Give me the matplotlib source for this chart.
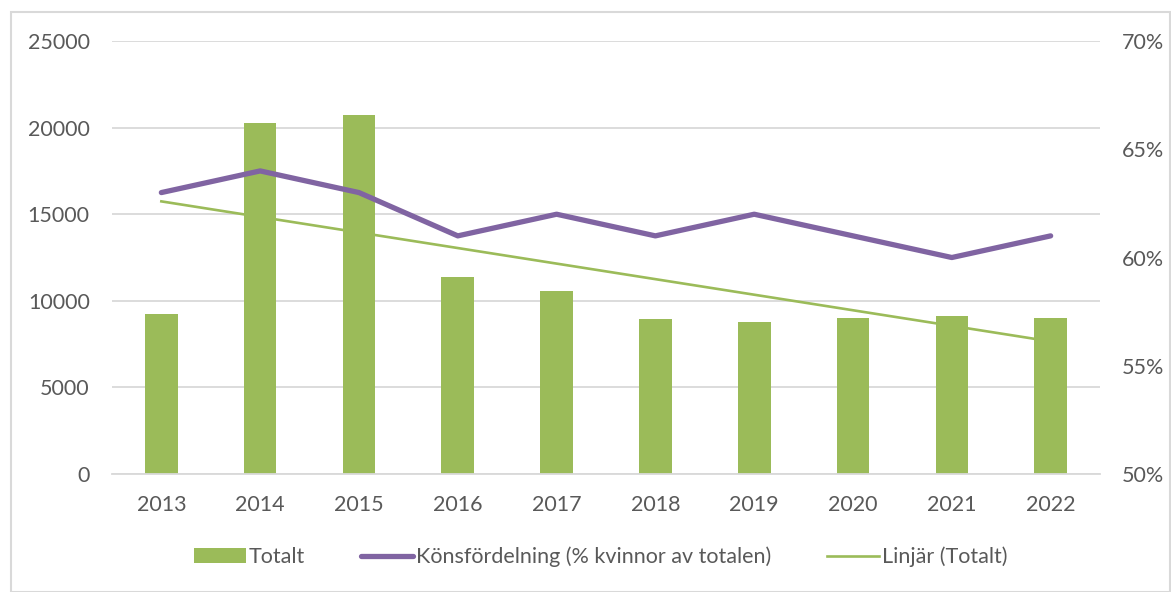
import numpy as np
import matplotlib.pyplot as plt
from matplotlib.patches import Rectangle
from matplotlib.ticker import FuncFormatter

# -----------------------------
# Data
# -----------------------------
years = ["2013", "2014", "2015", "2016", "2017", "2018", "2019", "2020", "2021", "2022"]
totalt = [9250, 20250, 20700, 11400, 10550, 8950, 8800, 9000, 9100, 9000]
andel_kvinnor = [0.63, 0.64, 0.63, 0.61, 0.62, 0.61, 0.62, 0.61, 0.60, 0.61]

GREEN = "#9BBB59"
PURPLE = "#8064A2"
GRID = "#D9D9D9"
TXT = "#595959"
FS = 15.5

plt.rcParams["font.family"] = ["Lato", "DejaVu Sans"]

fig = plt.figure(figsize=(11.71, 5.92), dpi=100)
fig.subplots_adjust(left=0.0956, right=0.9394, top=0.9307, bottom=0.1993)
ax = fig.add_subplot(111)

x = np.arange(len(years))
ax.bar(x, totalt, width=0.33, color=GREEN, label="Totalt", zorder=2)

# linjär trendlinje (minsta kvadrat) på Totalt
k, m = np.polyfit(x, totalt, 1)
ax.plot(x, k * x + m, color=GREEN, lw=1.9, label="Linjär (Totalt)", zorder=3)

ax.set_xlim(-0.5, len(years) - 0.5)
ax.set_ylim(0, 25000)
ax.set_yticks(range(0, 25001, 5000))
ax.set_xticks(x)
ax.set_xticklabels(years)
ax.grid(axis="y", color=GRID, lw=1.3, zorder=0)
ax.set_axisbelow(True)

ax2 = ax.twinx()
ax2.plot(x, andel_kvinnor, color=PURPLE, lw=3.8, solid_capstyle="round",
         label="Könsfördelning (% kvinnor av totalen)", zorder=4)
ax2.set_ylim(0.5, 0.7)
ax2.set_yticks([0.5, 0.55, 0.6, 0.65, 0.7])
ax2.yaxis.set_major_formatter(FuncFormatter(lambda v, p: f"{v * 100:.0f}%"))

for a in (ax, ax2):
    for s in a.spines.values():
        s.set_visible(False)
    a.tick_params(length=0, labelsize=FS, colors=TXT)
ax.spines["bottom"].set_visible(True)
ax.spines["bottom"].set_color(GRID)
ax.spines["bottom"].set_linewidth(1.3)
ax.tick_params(axis="y", pad=16)
ax.tick_params(axis="x", pad=15)
ax2.tick_params(axis="y", pad=16)

h1, l1 = ax.get_legend_handles_labels()
h2, l2 = ax2.get_legend_handles_labels()
handles = [h1[1], h2[0], h1[0]]
labels = [l1[1], l2[0], l1[0]]
fig.legend(handles, labels, loc="center", bbox_to_anchor=(0.513, 0.059), ncol=3,
           frameon=False, fontsize=FS, labelcolor=TXT, handlelength=2.4,
           handletextpad=0.15, columnspacing=2.6)

fig.patches.append(Rectangle((11 / 1171, 0.0), 1 - 12 / 1171, 1 - 12 / 592,
                             transform=fig.transFigure, fill=False,
                             edgecolor=GRID, lw=1.5))

fig.savefig("out.png", dpi=100)
